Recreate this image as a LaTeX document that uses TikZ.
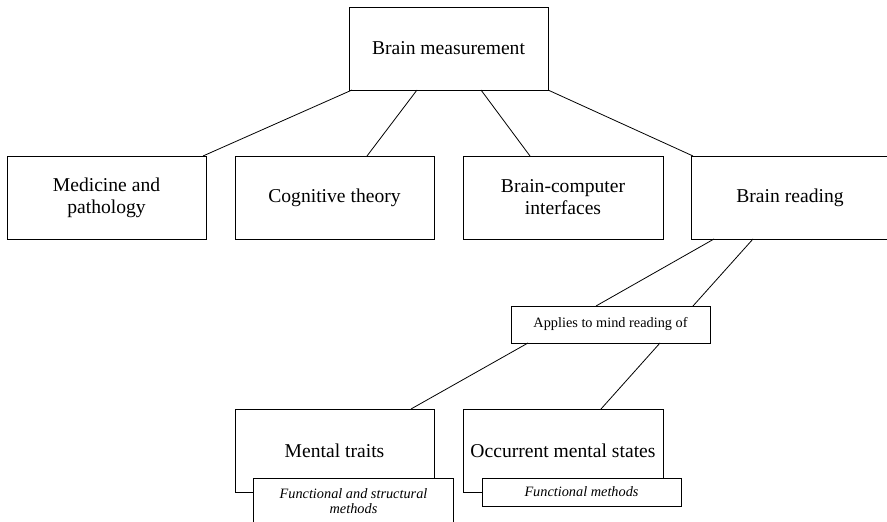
\documentclass[tikz,border=0pt]{standalone}
\usepackage{fontspec}
\setmainfont{Liberation Serif}
\usetikzlibrary{calc}
\tikzset{
  box/.style={draw, line width=0.8pt, fill=white, inner sep=0pt, outer sep=0pt,
    align=center, font=\fontsize{19.6}{22}\selectfont},
  bigbox/.style={box, minimum width=199pt, minimum height=83pt},
  smallbox/.style={draw, line width=0.8pt, fill=white, inner sep=0pt, outer sep=0pt,
    align=center, font=\fontsize{14.3}{15.5}\selectfont},
  link/.style={line width=0.8pt}
}
\begin{document}
\begin{tikzpicture}[x=1pt,y=-1pt]
\useasboundingbox (0,0) rectangle (887,522);
\clip (0,0) rectangle (887,522);
\fill[white] (0,0) rectangle (887,522);
% top
\node[bigbox] (bm) at (448.5,48.5) {Brain measurement};
% second row
\node[bigbox] (med) at (106.5,197.5) {Medicine and\\pathology};
\node[bigbox] (cog) at (334.5,197.5) {Cognitive theory};
\node[bigbox, minimum width=200pt] (bci) at (563,197.5) {Brain-computer\\interfaces};
\node[bigbox, minimum width=198pt] (br) at (790,197.5) {Brain reading};
% applies
\node[smallbox, minimum width=199pt, minimum height=37pt] (app) at (610.5,324.5) {Applies to mind reading of};
% bottom row
\node[bigbox] (mt) at (334.5,450.5) {Mental traits};
\node[bigbox, minimum width=200pt] (occ) at (563,450.5) {Occurrent mental states};
\node[smallbox, minimum width=200pt, minimum height=46pt, font=\itshape\fontsize{14.3}{15.5}\selectfont] (fsm) at (353.5,501) {Functional and structural\\methods};
\node[smallbox, minimum width=199pt, minimum height=28pt, font=\itshape\fontsize{14.3}{15.5}\selectfont] (fm) at (581.5,492) {Functional methods};
% connectors
\draw[link] ([xshift=3pt]bm.south west) -- ([xshift=-3pt]med.north east);
\draw[link] ([xshift=68pt]bm.south west) -- ([xshift=132pt]cog.north west);
\draw[link] ([xshift=132pt]bm.south west) -- ([xshift=67pt]bci.north west);
\draw[link] (bm.south east) -- ([xshift=2pt]br.north west);
\draw[link] ([xshift=23pt]br.south west) -- ([xshift=85pt]app.north west);
\draw[link] ([xshift=62pt]br.south west) -- ([xshift=182pt]app.north west);
\draw[link] ([xshift=17pt]app.south west) -- ([xshift=176pt]mt.north west);
\draw[link] ([xshift=149pt]app.south west) -- ([xshift=138pt]occ.north west);
\end{tikzpicture}
\end{document}
